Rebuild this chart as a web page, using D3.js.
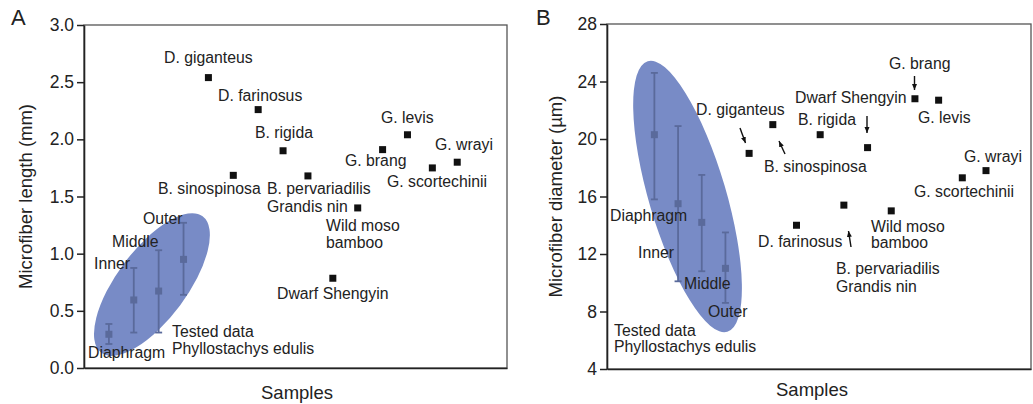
<!DOCTYPE html>
<html>
<head>
<meta charset="utf-8">
<script src="https://cdn.jsdelivr.net/npm/d3@7"></script>
<style>
    body { margin: 0; background: #fff; }
    text { font-family: "Liberation Sans", Arial, sans-serif; fill: #222; }
</style>
</head>
<body>
<div id="chart"></div>
<script>
// tested data (Phyllostachys edulis), positions 1..4
const testedParts = ["Diaphragm", "Inner", "Middle", "Outer"];
const lengthMean = [0.295, 0.595, 0.673, 0.95];
const lengthLow = [0.21, 0.31, 0.31, 0.64];
const lengthHigh = [0.385, 0.875, 1.03, 1.27];
const diameterMean = [20.3, 15.5, 14.2, 11.0];
const diameterLow = [15.8, 10.1, 10.8, 8.6];
const diameterHigh = [24.6, 20.9, 17.5, 13.5];

// literature species, positions 5..15
const species = ["D. giganteus", "B. sinospinosa", "D. farinosus", "B. rigida",
    "B. pervariadilis / Grandis nin", "Dwarf Shengyin", "Wild moso bamboo",
    "G. brang", "G. levis", "G. scortechinii", "G. wrayi"];
const speciesLength = [2.54, 1.685, 2.26, 1.90, 1.68, 0.785, 1.40, 1.91, 2.04, 1.75, 1.80];
const speciesDiameter = [19.0, 21.0, 14.0, 20.3, 15.4, 19.4, 15.0, 22.8, 22.7, 17.3, 17.8];

const lengthTicks = [0, 0.5, 1.0, 1.5, 2.0, 2.5, 3.0];
const diameterTicks = [4, 8, 12, 16, 20, 24, 28];

const ellipseColor = "#788bc6";
const errColor = "#5a6a9b";

const svg = d3.select("#chart")
    .append("svg")
    .attr("width", 1033)
    .attr("height", 404);

svg.append("defs").append("marker")
    .attr("id", "head")
    .attr("markerUnits", "userSpaceOnUse")
    .attr("markerWidth", 6)
    .attr("markerHeight", 6)
    .attr("refX", 6)
    .attr("refY", 3)
    .attr("orient", "auto")
    .append("path")
    .attr("d", "M0,0.5 L6,3 L0,5.5 Z")
    .attr("fill", "#111");

function drawPanel(cfg) {
    const x = d3.scaleLinear().domain(cfg.xDomain).range([cfg.left, cfg.right]);
    const y = d3.scaleLinear().domain(cfg.yDomain).range([cfg.bottom, cfg.top]);

    const g = svg.append("g");

    // frame (top / right)
    g.append("rect")
        .attr("x", cfg.left)
        .attr("y", cfg.top)
        .attr("width", cfg.right - cfg.left)
        .attr("height", cfg.bottom - cfg.top)
        .attr("fill", "none")
        .attr("stroke", "#555")
        .attr("stroke-width", 1.3);

    // ellipse around the tested data
    const e = cfg.ellipse;
    g.append("ellipse")
        .attr("transform", "translate(" + x(e.cx) + "," + y(e.cy) + ") rotate(" + e.angle + ")")
        .attr("rx", e.rx)
        .attr("ry", e.ry)
        .attr("fill", ellipseColor);

    const yAxis = g.append("g")
        .attr("transform", "translate(" + cfg.left + ",0)")
        .call(d3.axisLeft(y).tickValues(cfg.ticks).tickSize(7).tickPadding(3)
            .tickSizeOuter(0).tickFormat(cfg.fmt));
    yAxis.selectAll("text").style("font-size", "17.5px").attr("fill", "#222");
    yAxis.selectAll("line").attr("stroke", "#222").attr("stroke-width", 1.5);
    yAxis.select(".domain").attr("stroke", "#222").attr("stroke-width", 1.6);

    const xAxis = g.append("g")
        .attr("transform", "translate(0," + cfg.bottom + ")")
        .call(d3.axisBottom(x).tickValues([]).tickSizeOuter(0));
    xAxis.select(".domain").attr("stroke", "#222").attr("stroke-width", 1.6);

    // error bars
    const tested = testedParts.map((p, i) => ({
        pos: i + 1, mean: cfg.mean[i], low: cfg.low[i], high: cfg.high[i]
    }));
    const bars = g.selectAll(".err")
        .data(tested)
        .enter()
        .append("g")
        .attr("stroke", errColor)
        .attr("stroke-width", 1.8);
    bars.append("line")
        .attr("x1", d => x(d.pos)).attr("x2", d => x(d.pos))
        .attr("y1", d => y(d.low)).attr("y2", d => y(d.high));
    bars.append("line")
        .attr("x1", d => x(d.pos) - 3.5).attr("x2", d => x(d.pos) + 3.5)
        .attr("y1", d => y(d.low)).attr("y2", d => y(d.low));
    bars.append("line")
        .attr("x1", d => x(d.pos) - 3.5).attr("x2", d => x(d.pos) + 3.5)
        .attr("y1", d => y(d.high)).attr("y2", d => y(d.high));
    g.selectAll(".testedPt")
        .data(tested)
        .enter()
        .append("rect")
        .attr("x", d => x(d.pos) - 3.5)
        .attr("y", d => y(d.mean) - 3.5)
        .attr("width", 7)
        .attr("height", 7)
        .attr("fill", errColor);

    // literature points
    g.selectAll(".pt")
        .data(species.map((s, i) => ({ pos: i + 5, v: cfg.values[i] })))
        .enter()
        .append("rect")
        .attr("x", d => x(d.pos) - 3.5)
        .attr("y", d => y(d.v) - 3.5)
        .attr("width", 7)
        .attr("height", 7)
        .attr("fill", "#111");

    // labels
    g.selectAll(".lab")
        .data(cfg.labels)
        .enter()
        .append("text")
        .attr("x", d => d[1])
        .attr("y", d => d[2])
        .style("font-size", "15.8px")
        .text(d => d[0]);

    g.selectAll(".arrow")
        .data(cfg.arrows)
        .enter()
        .append("line")
        .attr("x1", d => d[0]).attr("y1", d => d[1])
        .attr("x2", d => d[2]).attr("y2", d => d[3])
        .attr("stroke", "#111")
        .attr("stroke-width", 1.4)
        .attr("marker-end", "url(#head)");

    // titles
    g.append("text")
        .attr("transform", "translate(" + cfg.yTitleX + "," + (cfg.top + cfg.bottom) / 2 + ") rotate(-90)")
        .attr("text-anchor", "middle")
        .style("font-size", "18.5px")
        .text(cfg.yTitle);

    g.append("text")
        .attr("x", cfg.xTitleX)
        .attr("y", cfg.xTitleY)
        .attr("text-anchor", "middle")
        .style("font-size", "18.5px")
        .text("Samples");

    g.append("text")
        .attr("x", cfg.letterPos[0])
        .attr("y", cfg.letterPos[1])
        .style("font-size", "22px")
        .text(cfg.letter);
}

drawPanel({
    letter: "A", letterPos: [11, 25],
    left: 84, right: 507, top: 25, bottom: 368,
    xDomain: [0, 17], yDomain: [0, 3],
    ticks: lengthTicks, fmt: d3.format(".1f"),
    yTitle: "Microfiber length (mm)", yTitleX: 32,
    xTitleX: 297, xTitleY: 399,
    mean: lengthMean, low: lengthLow, high: lengthHigh,
    values: speciesLength,
    ellipse: { cx: 2.73, cy: 0.73, rx: 85, ry: 35, angle: -53.4 },
    labels: [
        ["D. giganteus", 164, 63], ["D. farinosus", 218, 101], ["B. rigida", 255, 138],
        ["B. sinospinosa", 158, 194], ["B. pervariadilis", 267, 194], ["Grandis nin", 267, 212],
        ["Wild moso", 326, 231], ["bamboo", 326, 248], ["Dwarf Shengyin", 277, 299],
        ["G. levis", 381, 123], ["G. brang", 345, 166], ["G. wrayi", 435, 150],
        ["G. scortechinii", 387, 187],
        ["Outer", 143, 224], ["Middle", 112, 247], ["Inner", 94, 269], ["Diaphragm", 88, 358],
        ["Tested data", 172, 337], ["Phyllostachys edulis", 172, 354]
    ],
    arrows: []
});

drawPanel({
    letter: "B", letterPos: [536, 25],
    left: 607, right: 1031, top: 24, bottom: 369,
    xDomain: [-1, 16.9], yDomain: [4, 28],
    ticks: diameterTicks, fmt: d3.format("d"),
    yTitle: "Microfiber diameter (\u00b5m)", yTitleX: 562,
    xTitleX: 812, xTitleY: 396,
    mean: diameterMean, low: diameterLow, high: diameterHigh,
    values: speciesDiameter,
    ellipse: { cx: 2.4, cy: 16.0, rx: 141, ry: 38.6, angle: 73.6 },
    labels: [
        ["D. giganteus", 696, 115], ["B. sinospinosa", 764, 172], ["B. rigida", 798, 125],
        ["Dwarf Shengyin", 795, 103], ["G. brang", 889, 69], ["G. levis", 918, 123],
        ["G. wrayi", 964, 162], ["G. scortechinii", 914, 197], ["D. farinosus", 758, 247],
        ["Wild moso", 871, 232], ["bamboo", 871, 248],
        ["B. pervariadilis", 836, 274], ["Grandis nin", 836, 292],
        ["Diaphragm", 610, 221], ["Inner", 638, 258], ["Middle", 684, 289], ["Outer", 708, 317],
        ["Tested data", 614, 336], ["Phyllostachys edulis", 614, 352]
    ],
    arrows: [
        [740, 128, 745.5, 143], [785, 154, 779, 141], [867, 116, 867, 133],
        [914.5, 76, 914.5, 90], [851, 247, 848.5, 231]
    ]
});
</script>
</body>
</html>
